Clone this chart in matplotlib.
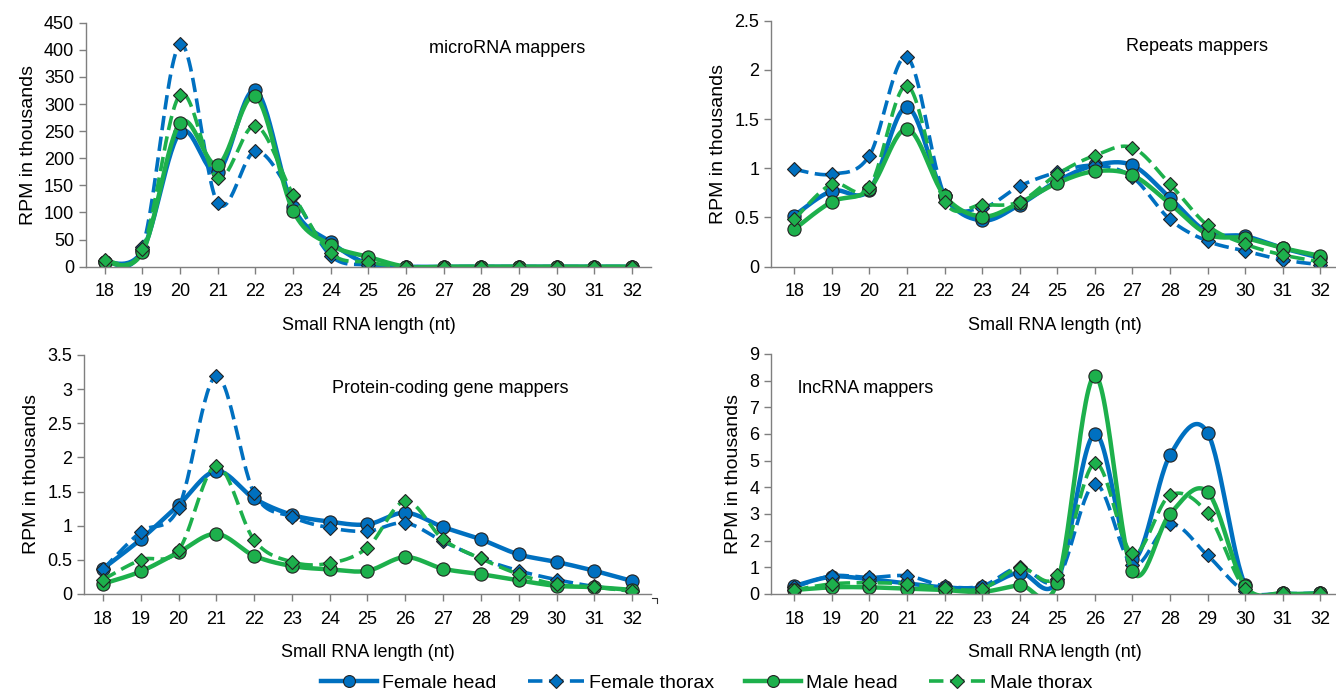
import numpy as np
import matplotlib
matplotlib.use('Agg')
import matplotlib.pyplot as plt
from matplotlib.ticker import FuncFormatter

plt.rcParams['font.family'] = ['Liberation Sans', 'DejaVu Sans']

lengths = list(range(18, 33))
series_names = ['Female head', 'Female thorax', 'Male head', 'Male thorax']

# microRNA mappers
mirna_fh = [8, 30, 248, 175, 325, 110, 45, 5, 0, 0, 0, 0, 0, 0, 0]
mirna_ft = [10, 37, 410, 117, 213, 130, 20, 3, 0, 0, 0, 0, 0, 0, 0]
mirna_mh = [8, 27, 265, 188, 314, 103, 40, 18, 0, 0, 0, 0, 0, 0, 0]
mirna_mt = [12, 32, 317, 163, 260, 133, 25, 8, 0, 0, 0, 0, 0, 0, 0]

# Repeats mappers
rep_fh = [0.52, 0.77, 0.78, 1.62, 0.72, 0.47, 0.63, 0.87, 1.03, 1.03, 0.70, 0.35, 0.31, 0.19, 0.09]
rep_ft = [0.99, 0.94, 1.13, 2.13, 0.73, 0.60, 0.82, 0.96, 1.03, 0.91, 0.48, 0.26, 0.16, 0.07, 0.02]
rep_mh = [0.38, 0.66, 0.79, 1.40, 0.72, 0.51, 0.65, 0.85, 0.97, 0.93, 0.64, 0.33, 0.29, 0.19, 0.11]
rep_mt = [0.48, 0.84, 0.81, 1.84, 0.66, 0.63, 0.66, 0.94, 1.13, 1.21, 0.84, 0.42, 0.23, 0.12, 0.05]

# Protein-coding gene mappers
pc_fh = [0.37, 0.80, 1.30, 1.80, 1.40, 1.16, 1.06, 1.02, 1.19, 0.98, 0.80, 0.58, 0.47, 0.34, 0.19]
pc_ft = [0.36, 0.91, 1.26, 3.19, 1.48, 1.13, 0.97, 0.92, 1.04, 0.77, 0.52, 0.34, 0.21, 0.11, 0.05]
pc_mh = [0.15, 0.33, 0.61, 0.88, 0.56, 0.41, 0.36, 0.34, 0.54, 0.37, 0.29, 0.20, 0.12, 0.10, 0.06]
pc_mt = [0.21, 0.50, 0.64, 1.88, 0.79, 0.47, 0.45, 0.68, 1.36, 0.80, 0.52, 0.29, 0.14, 0.10, 0.04]

# lncRNA mappers
lnc_fh = [0.30, 0.65, 0.55, 0.40, 0.25, 0.25, 0.80, 0.50, 6.00, 1.30, 5.20, 6.05, 0.35, 0.02, 0.02]
lnc_ft = [0.25, 0.68, 0.62, 0.68, 0.30, 0.30, 1.00, 0.55, 4.12, 1.10, 2.62, 1.45, 0.10, 0.02, 0.02]
lnc_mh = [0.15, 0.25, 0.25, 0.20, 0.15, 0.08, 0.33, 0.42, 8.18, 0.85, 3.00, 3.83, 0.30, 0.02, 0.02]
lnc_mt = [0.15, 0.38, 0.42, 0.38, 0.22, 0.20, 0.98, 0.70, 4.90, 1.52, 3.70, 3.02, 0.20, 0.02, 0.02]

BLUE = '#0070C0'
GREEN = '#1DB04C'
styles = [
    dict(color=BLUE, ls='-', marker='o', ms=9.5, lw=3.2),
    dict(color=BLUE, ls=(0, (4, 1.8)), marker='D', ms=7.5, lw=2.6),
    dict(color=GREEN, ls='-', marker='o', ms=9.5, lw=3.2),
    dict(color=GREEN, ls=(0, (4, 1.8)), marker='D', ms=7.5, lw=2.6),
]


def smooth(x, y, n=30):
    # excel-style smoothed line: bezier segments with 1/6 neighbour tangents
    x = np.asarray(x, float)
    y = np.asarray(y, float)
    px = np.concatenate([[x[0]], x, [x[-1]]])
    py = np.concatenate([[y[0]], y, [y[-1]]])
    t = np.linspace(0, 1, n)[:, None]
    xs, ys = [], []
    for i in range(1, len(px) - 2):
        p0 = np.array([px[i], py[i]])
        p3 = np.array([px[i + 1], py[i + 1]])
        p1 = p0 + (np.array([px[i + 1], py[i + 1]]) - np.array([px[i - 1], py[i - 1]])) / 6
        p2 = p3 - (np.array([px[i + 2], py[i + 2]]) - np.array([px[i], py[i]])) / 6
        b = ((1 - t) ** 3) * p0 + 3 * ((1 - t) ** 2) * t * p1 + 3 * (1 - t) * t ** 2 * p2 + t ** 3 * p3
        xs.append(b[:, 0])
        ys.append(b[:, 1])
    return np.concatenate(xs), np.concatenate(ys)


panels = [
    ([mirna_fh, mirna_ft, mirna_mh, mirna_mt], 'microRNA mappers', 450, 50, (0.607, 0.896)),
    ([rep_fh, rep_ft, rep_mh, rep_mt], 'Repeats mappers', 2.5, 0.5, (0.625, 0.896)),
    ([pc_fh, pc_ft, pc_mh, pc_mt], 'Protein-coding gene mappers', 3.5, 0.5, (0.438, 0.858)),
    ([lnc_fh, lnc_ft, lnc_mh, lnc_mt], 'lncRNA mappers', 9, 1, (0.048, 0.858)),
]

W, H = 1336, 697
# axes boxes in pixels: left, right, top, bottom
boxes = [(86, 651, 22.7, 266.7), (771, 1339, 20.7, 266.7),
         (84, 651, 355, 594), (771, 1339, 354, 594)]

fig = plt.figure(figsize=(W / 100, H / 100), dpi=100)
handles = None
for (data, title, ymax, ystep, tpos), (l, r, t, b) in zip(panels, boxes):
    ax = fig.add_axes([l / W, 1 - b / H, (r - l) / W, (b - t) / H])
    hs = []
    for vals, st, name in zip(data, styles, series_names):
        sx, sy = smooth(lengths, vals)
        ax.plot(sx, sy, color=st['color'], ls=st['ls'], lw=st['lw'], solid_capstyle='butt')
        ax.plot(lengths, vals, ls='none', marker=st['marker'], ms=st['ms'],
                mfc=st['color'], mec='#222222', mew=0.8)
        h, = ax.plot([], [], color=st['color'], ls=st['ls'], lw=st['lw'], marker=st['marker'],
                     ms=st['ms'] * 0.9, mfc=st['color'], mec='#222222', mew=0.8)
        hs.append(h)
    handles = hs
    x0 = 18 - (0.5 if l < 100 else 0.62)
    ax.set_xlim(x0, 32.5)
    ax.set_ylim(0, ymax)
    ax.set_xticks(lengths)
    ax.set_yticks(np.arange(0, ymax + ystep / 2, ystep))
    ax.yaxis.set_major_formatter(FuncFormatter(lambda v, p: '%g' % v))
    for s in ['top', 'right']:
        ax.spines[s].set_visible(False)
    for s in ['left', 'bottom']:
        ax.spines[s].set_color('#7f7f7f')
        ax.spines[s].set_linewidth(1.0)
    ax.tick_params(axis='both', colors='#7f7f7f', labelcolor='black', labelsize=13,
                   length=5, width=1.0)
    ax.tick_params(axis='x', pad=7)
    ax.set_xlabel('Small RNA length (nt)', fontsize=13, labelpad=12)
    ax.set_ylabel('RPM in thousands', fontsize=14, labelpad=5)
    ax.text(tpos[0], tpos[1], title, transform=ax.transAxes, fontsize=13, va='center', ha='left')

# small stray corner mark under the protein-coding panel
fig.add_artist(plt.Line2D([652 / W, 657 / W, 657 / W], [1 - 598 / H, 1 - 598 / H, 1 - 603 / H],
                          color='#333333', lw=0.8))

fig.legend(handles, series_names, loc='center', bbox_to_anchor=(0.529, 1 - 683 / H), ncol=4,
           frameon=False, fontsize=14, handlelength=2.9, columnspacing=1.6, handletextpad=0.25)

fig.savefig('out.png', dpi=100)
